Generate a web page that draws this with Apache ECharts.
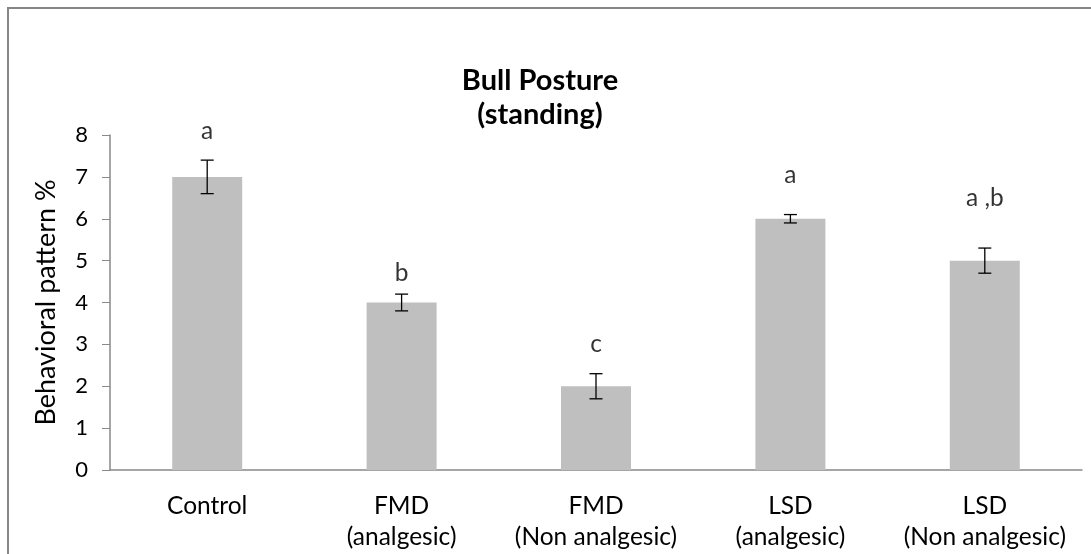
<!DOCTYPE html>
<html>
<head>
<meta charset="utf-8">
<script src="https://cdn.jsdelivr.net/npm/echarts@6/dist/echarts.min.js"></script>
<style>
html,body{margin:0;padding:0;background:#fff;}
#chart{width:1091px;height:554px;}
</style>
</head>
<body>
<div id="chart"></div>
<script>
const categories = ['Control', 'FMD\n(analgesic)', 'FMD\n(Non analgesic)', 'LSD\n(analgesic)', 'LSD\n(Non analgesic)'];
const values = [7, 4, 2, 6, 5];
const errors = [0.4, 0.2, 0.3, 0.1, 0.3];
const letters = ['a', 'b', 'c', 'a', 'a ,b'];
const letterY = [8.1, 4.7, 3.0, 7.05, 6.5];
const yTicks = [0, 1, 2, 3, 4, 5, 6, 7, 8];

const FONT = 'Lato';
const chart = echarts.init(document.getElementById('chart'), null, {renderer: 'canvas'});

const option = {
  animation: false,
  backgroundColor: '#ffffff',
  graphic: [
    {type: 'rect', shape: {x: 8, y: 8, width: 1200, height: 700},
     style: {fill: 'none', stroke: '#868686', lineWidth: 2}, z: 100}
  ],
  title: {
    text: 'Bull Posture\n(standing)',
    left: 535, top: 59, textAlign: 'center',
    textStyle: {fontFamily: FONT, fontWeight: 'bold', fontSize: 29, color: '#000', lineHeight: 34}
  },
  grid: {left: 110, right: 9, top: 135, bottom: 84, containLabel: false},
  xAxis: {
    type: 'category',
    data: categories,
    axisLine: {lineStyle: {color: '#898989', width: 1.5}},
    axisTick: {show: false},
    axisLabel: {fontFamily: FONT, fontSize: 24.5, color: '#000', margin: 21, lineHeight: 31, interval: 0}
  },
  yAxis: {
    type: 'value',
    min: yTicks[0], max: yTicks[yTicks.length - 1], interval: 1,
    name: 'Behavioral pattern %',
    nameLocation: 'middle', nameGap: 50, nameRotate: 90,
    nameTextStyle: {fontFamily: FONT, fontSize: 27, color: '#000'},
    axisLine: {show: true, lineStyle: {color: '#898989', width: 1.5}},
    axisTick: {show: true, inside: false, length: 8, lineStyle: {color: '#898989'}},
    splitLine: {show: false},
    axisLabel: {fontFamily: FONT, fontSize: 22, color: '#000', margin: 22}
  },
  series: [
    {
      type: 'bar',
      data: values,
      barWidth: '36%',
      itemStyle: {color: '#bfbfbf'},
      z: 2
    },
    {
      type: 'custom',
      data: values.map((v, i) => [i, v - errors[i], v + errors[i]]),
      renderItem: function (params, api) {
        const lo = api.coord([api.value(0), api.value(1)]);
        const hi = api.coord([api.value(0), api.value(2)]);
        const hw = 6.5;
        const st = {stroke: '#000', lineWidth: 1.3};
        return {
          type: 'group',
          children: [
            {type: 'line', shape: {x1: hi[0], y1: hi[1], x2: lo[0], y2: lo[1]}, style: st},
            {type: 'line', shape: {x1: hi[0] - hw, y1: hi[1], x2: hi[0] + hw, y2: hi[1]}, style: st},
            {type: 'line', shape: {x1: lo[0] - hw, y1: lo[1], x2: lo[0] + hw, y2: lo[1]}, style: st}
          ]
        };
      },
      z: 5
    },
    {
      type: 'scatter',
      data: letterY.map((y, i) => [i, y]),
      symbolSize: 0,
      clip: false,
      label: {
        show: true, position: 'inside',
        formatter: p => letters[p.dataIndex],
        fontFamily: FONT, fontSize: 24.5, color: '#000'
      },
      z: 6
    }
  ]
};
chart.setOption(option);
</script>
</body>
</html>
